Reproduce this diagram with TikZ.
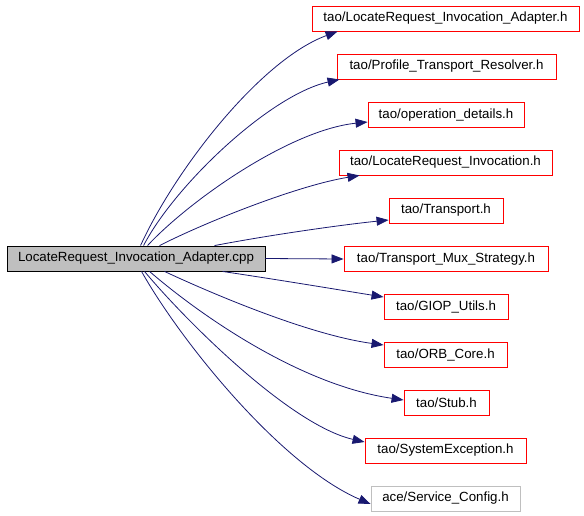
\documentclass[tikz,border=0pt]{standalone}
\usepackage{fontspec}
\setmainfont{Liberation Sans}
\usetikzlibrary{arrows.meta}
\definecolor{edgec}{HTML}{191970}
\definecolor{greyc}{HTML}{BFBFBF}
\tikzset{
  box/.style={draw=red, line width=0.9pt, minimum height=25pt, inner sep=0pt, font=\fontsize{13.3}{15}\selectfont, text=black},
  greybox/.style={box, draw=greyc},
  mainbox/.style={box, draw=black, fill=greyc},
  edge/.style={draw=edgec, line width=0.8pt, -{Triangle[length=12pt,width=9pt]}},
}
\begin{document}
\begin{tikzpicture}[x=1pt,y=-1pt]
\useasboundingbox (0,0) rectangle (584,515);
\node[mainbox, minimum width=258pt] (m) at (136,258.5) {LocateRequest\_Invocation\_Adapter.cpp};
\node[box, minimum width=267pt] (b1) at (445.5,18.5) {tao/LocateRequest\_Invocation\_Adapter.h};
\node[box, minimum width=219pt] (b2) at (446.5,66.5) {tao/Profile\_Transport\_Resolver.h};
\node[box, minimum width=156pt] (b3) at (446,115) {tao/operation\_details.h};
\node[box, minimum width=213pt] (b4) at (445.5,162.5) {tao/LocateRequest\_Invocation.h};
\node[box, minimum width=114pt] (b5) at (446,210.5) {tao/Transport.h};
\node[box, minimum width=204pt] (b6) at (446,259) {tao/Transport\_Mux\_Strategy.h};
\node[box, minimum width=124pt] (b7) at (446,306.5) {tao/GIOP\_Utils.h};
\node[box, minimum width=123pt] (b8) at (445.5,354.5) {tao/ORB\_Core.h};
\node[box, minimum width=85pt] (b9) at (446.5,402.5) {tao/Stub.h};
\node[box, minimum width=161pt] (b10) at (445.5,450.5) {tao/SystemException.h};
\node[greybox, minimum width=149pt] (b11) at (445.5,498.5) {ace/Service\_Config.h};
% start points
\coordinate (s1) at ([xshift=134pt]m.north west);
\coordinate (s2) at ([xshift=137pt]m.north west);
\coordinate (s3) at ([xshift=141pt]m.north west);
\coordinate (s4) at ([xshift=153pt]m.north west);
\coordinate (s5) at ([xshift=208pt]m.north west);
\coordinate (s7) at ([xshift=216pt]m.south west);
\coordinate (s8) at ([xshift=158pt]m.south west);
\coordinate (s9) at ([xshift=143pt]m.south west);
\coordinate (s10) at ([xshift=138pt]m.south west);
\coordinate (s11) at ([xshift=135pt]m.south west);
% end points
\coordinate (t1) at ([xshift=26pt]b1.south west);
\coordinate (t2) at ([xshift=3pt]b2.south west);
\coordinate (t3) at ([yshift=-7pt]b3.west);
\coordinate (t4) at ([xshift=21pt]b4.south west);
\coordinate (t5) at ([yshift=-9.5pt]b5.west);
\coordinate (t7) at ([yshift=9.5pt]b7.west);
\coordinate (t8) at ([yshift=9.5pt]b8.west);
\coordinate (t9) at ([yshift=2.5pt]b9.west);
\coordinate (t10) at ([yshift=8.5pt]b10.west);
\coordinate (t11) at ([yshift=-5.5pt]b11.west);
\draw[edge] (s1) .. controls (175,170) and (260,60) .. (t1);
\draw[edge] (s2) .. controls (175,185) and (270,95) .. (t2);
\draw[edge] (s3) .. controls (190,200) and (290,130) .. (t3);
\draw[edge] (s4) .. controls (210,220) and (300,185) .. (t4);
\draw[edge] (s5) .. controls (270,235) and (340,225) .. (t5);
\draw[edge] (m.east) -- (b6.west);
\draw[edge] (s7) .. controls (280,280) and (340,290) .. (t7);
\draw[edge] (s8) .. controls (215,295) and (310,335) .. (t8);
\draw[edge] (s9) .. controls (200,315) and (300,385) .. (t9);
\draw[edge] (s10) .. controls (185,320) and (290,425) .. (t10);
\draw[edge] (s11) .. controls (180,340) and (280,465) .. (t11);
\end{tikzpicture}
\end{document}
